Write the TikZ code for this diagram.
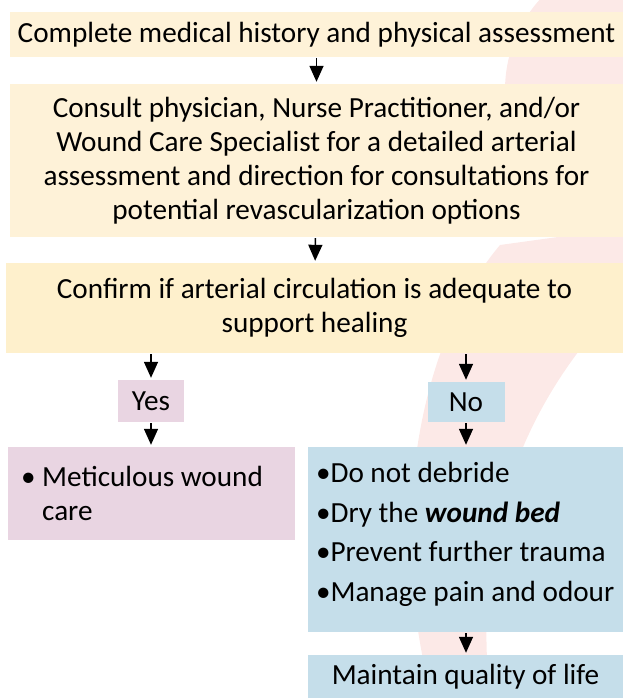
\documentclass[tikz,border=0pt]{standalone}
\usepackage{fontspec}
\setmainfont{Carlito}
\usetikzlibrary{arrows.meta}
\definecolor{sand}{RGB}{254,242,216}
\definecolor{sanddeep}{RGB}{254,240,204}
\definecolor{mauve}{RGB}{233,213,226}
\definecolor{sky}{RGB}{197,222,234}
\definecolor{blush}{RGB}{252,233,231}
\newcommand{\bpoint}{\textbullet}

\begin{document}
\begin{tikzpicture}[x=1pt,y=-1pt,
  box/.style={rectangle,inner sep=0pt,align=center,font=\fontsize{29.2}{34}\selectfont},
  listbox/.style={box,align=flush left,inner xsep=13pt},
  flow/.style={-{Triangle[length=16pt,width=14pt]},line width=1.5pt,shorten <=1pt,shorten >=2pt}]
  % page
  \useasboundingbox (0,0) rectangle (623,698);
  % faint logo behind the boxes
  \fill[blush] (640,90) circle (135);
  \fill[blush] (623,228) -- (500,245) .. controls (420,340) and (385,520) .. (432,698)
    -- (490,698) .. controls (475,560) and (505,420) .. (623,300) -- cycle;
  % main column
  \node[box,fill=sand,minimum width=613pt,minimum height=45pt] (hist) at (316.5,34.5)
    {Complete medical history and physical assessment};
  \node[box,fill=sand,minimum width=613pt,minimum height=153pt] (consult) at (316.5,160.5)
    {Consult physician, Nurse Practitioner, and/or\\Wound Care Specialist for a detailed arterial\\
     assessment and direction for consultations for\\potential revascularization options};
  \node[box,fill=sanddeep,minimum width=617pt,minimum height=90pt] (check) at (314.5,308)
    {Confirm if arterial circulation is adequate to\\support healing};
  % answers
  \node[box,fill=mauve,minimum width=66pt,minimum height=42pt] (yes) at (151,401) {Yes};
  \node[box,fill=sky,minimum width=77pt,minimum height=40pt] (no) at (466,402) {No};
  % what to do
  \node[listbox,fill=mauve,text width=261pt,minimum height=93pt] (care) at (151.5,493.5)
    {\bpoint\ Meticulous wound\\\phantom{\bpoint\ }care};
  \node[listbox,fill=sky,minimum width=315pt,minimum height=185pt,inner xsep=8pt,
    font=\fontsize{29.2}{39.5}\selectfont] (nocare) at (465.5,539.5)
    {\raisebox{5pt}[\height][\depth]{\parbox{299pt}{\raggedright
     \bpoint Do not debride\\\bpoint Dry the \textbf{\textit{wound bed}}\\
     \bpoint Prevent further trauma\\\bpoint Manage pain and odour}}};
  \node[box,fill=sky,minimum width=315pt,minimum height=43pt] (life) at (465.5,676.5)
    {\raisebox{-4pt}{Maintain quality of life}};
  % arrows
  \draw[flow] (hist) -- (consult);
  \draw[flow] (consult) -- (check);
  \draw[flow] (check.south -| yes) -- (yes);
  \draw[flow] (check.south -| no) -- (no);
  \draw[flow] (yes) -- (yes |- care.north);
  \draw[flow] (no) -- (no |- nocare.north);
  \draw[flow] (nocare.south -| no) -- (life.north -| no);
\end{tikzpicture}
\end{document}
